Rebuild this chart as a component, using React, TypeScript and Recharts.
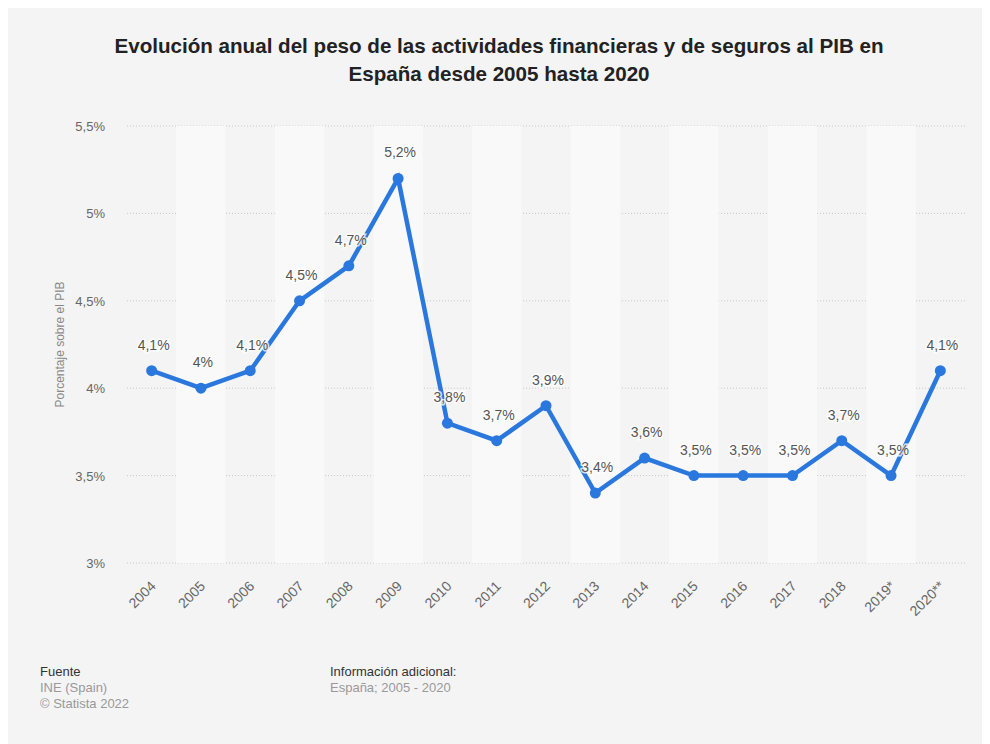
import React from 'react';
import { LineChart, Line, XAxis, YAxis, CartesianGrid, ReferenceArea, LabelList } from 'recharts';

const years = ['2004', '2005', '2006', '2007', '2008', '2009', '2010', '2011', '2012', '2013', '2014', '2015', '2016', '2017', '2018', '2019*', '2020**'];
const shares = [4.1, 4.0, 4.1, 4.5, 4.7, 5.2, 3.8, 3.7, 3.9, 3.4, 3.6, 3.5, 3.5, 3.5, 3.7, 3.5, 4.1];
const yTicks = [3, 3.5, 4, 4.5, 5, 5.5];

const data = years.map((year, i) => ({ year, value: shares[i] }));
const fmt = (v: number) => String(v).replace('.', ',') + '%';

const FONT = '"Liberation Sans", Arial, Helvetica, sans-serif';

const XTick = ({ x, y, payload }: any) => (
  <text
    x={x + 5}
    y={y + 22}
    transform={`rotate(-45, ${x + 5}, ${y + 22})`}
    textAnchor="end"
    fill="#666"
    fontSize={14}
    fontFamily={FONT}
  >
    {payload.value}
  </text>
);

const YTick = ({ x, y, payload }: any) => (
  <text x={x - 20} y={y + 5} textAnchor="end" fill="#666" fontSize={13} fontFamily={FONT}>
    {fmt(payload.value)}
  </text>
);

const PointLabel = ({ x, y, value }: any) => (
  <text
    x={x + 2}
    y={y - 21}
    textAnchor="middle"
    fill="#555"
    fontSize={14}
    fontFamily={FONT}
    stroke="#fff"
    strokeWidth={3}
    strokeOpacity={0.8}
    paintOrder="stroke"
  >
    {fmt(value)}
  </text>
);

const YTitle = ({ viewBox }: any) => {
  const cy = viewBox.y + viewBox.height / 2;
  return (
    <text
      x={52}
      y={cy}
      dy="0.35em"
      transform={`rotate(-90, 52, ${cy})`}
      textAnchor="middle"
      fill="#888"
      fontSize={12}
      fontFamily={FONT}
    >
      Porcentaje sobre el PIB
    </text>
  );
};

export default function App() {
  return (
    <div style={{ position: 'relative', width: 982, height: 736, background: '#f4f4f4', fontFamily: FONT, overflow: 'hidden' }}>
      <div
        style={{
          position: 'absolute',
          top: 24,
          left: 0,
          width: 982,
          textAlign: 'center',
          fontSize: 20.6,
          fontWeight: 'bold',
          lineHeight: '28px',
          color: '#222',
        }}
      >
        Evolución anual del peso de las actividades financieras y de seguros al PIB en
        <br />
        España desde 2005 hasta 2020
      </div>

      <div style={{ position: 'absolute', top: 0, left: 0 }}>
        <LineChart width={982} height={640} data={data} margin={{ top: 118, right: 25, bottom: 25, left: 0 }}>
          {years
            .filter((_, i) => i % 2 === 1)
            .map((y) => (
              <ReferenceArea key={y} x1={y} x2={y} y1={3} y2={5.5} fill="#f9f9f9" fillOpacity={1} stroke="none" />
            ))}
          <CartesianGrid vertical={false} stroke="#c8c8c8" strokeDasharray="1 2" />
          <XAxis
            dataKey="year"
            scale="band"
            axisLine={false}
            tickLine={false}
            tickSize={0}
            height={60}
            interval={0}
            tick={<XTick />}
          />
          <YAxis
            domain={[3, 5.5]}
            ticks={yTicks}
            axisLine={false}
            tickLine={false}
            tickSize={0}
            width={119}
            tick={<YTick />}
            label={<YTitle />}
          />
          <Line
            type="linear"
            dataKey="value"
            stroke="#2a78de"
            strokeWidth={4.5}
            dot={{ r: 5.5, fill: '#2a78de', stroke: '#2a78de', strokeWidth: 0 }}
            activeDot={false}
            isAnimationActive={false}
          >
            <LabelList dataKey="value" content={<PointLabel />} />
          </Line>
        </LineChart>
      </div>

      <div style={{ position: 'absolute', top: 656, left: 32, fontSize: 13, lineHeight: '16px' }}>
        <div style={{ color: '#333' }}>Fuente</div>
        <div style={{ color: '#999' }}>INE (Spain)</div>
        <div style={{ color: '#999' }}>© Statista 2022</div>
      </div>
      <div style={{ position: 'absolute', top: 656, left: 322, fontSize: 13, lineHeight: '16px' }}>
        <div style={{ color: '#333' }}>Información adicional:</div>
        <div style={{ color: '#999' }}>España; 2005 - 2020</div>
      </div>
    </div>
  );
}
